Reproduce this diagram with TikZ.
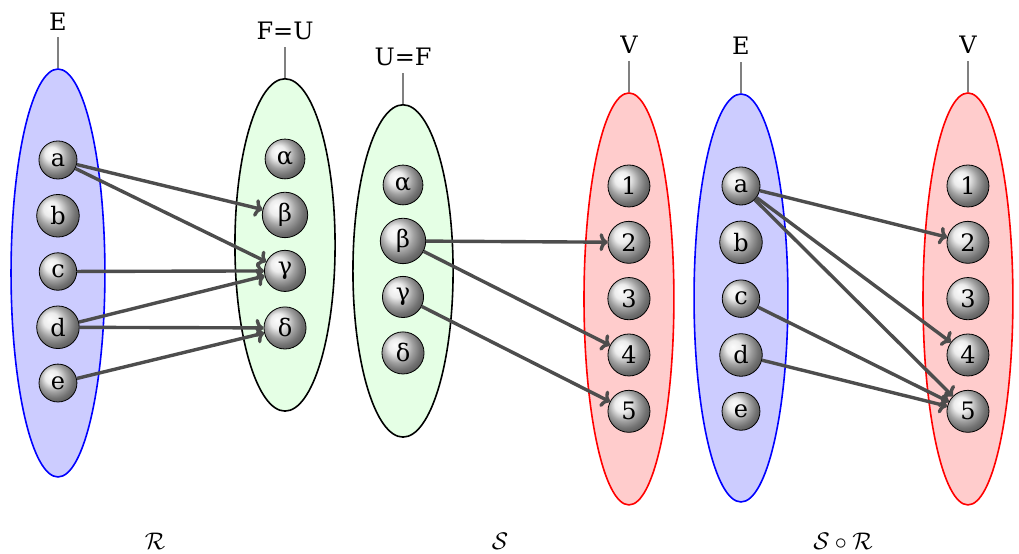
\documentclass[tikz,border=0pt]{standalone}
\usepackage{fontspec}
\setmainfont{DejaVu Serif}
\usepackage{tikz}
\usetikzlibrary{shapes.geometric, arrows.meta, positioning}
\definecolor{cArrow}{RGB}{77,77,77}
\tikzset{
	elem/.style     ={circle, draw=black, ball color=gray!20, inner sep=3.3pt, font=\large},
	setbox/.style   ={ellipse, thick, inner sep=0pt, pin distance=0.63cm},
	setblue/.style  ={setbox, draw=blue, fill=blue!20, minimum width=1.65cm, minimum height=7.17cm},
	setgreen/.style ={setbox, draw=black, fill=green!10, minimum width=1.76cm, minimum height=5.84cm},
	setred/.style   ={setbox, draw=red, fill=red!20, minimum width=1.58cm, minimum height=7.24cm},
	maparrow/.style ={-{To[length=4pt, width=9pt]}, line width=1.7pt, cArrow},
	relname/.style  ={font=\large},
	every pin/.style={font=\large},
	every pin edge/.style={draw=gray, line width=1pt},
}

\begin{document}
\begin{tikzpicture}
	\useasboundingbox (0,0) rectangle (17.909,9.736);
	% sets
	\node[setblue, pin=above:E] (setE) at (1.019,4.938) {};
	\node[setgreen, pin={above:{F=U}}] (setF) at (5.009,5.431) {};
	\node[setgreen, pin={above:{U=F}}] (setU) at (7.083,4.974) {};
	\node[setred, pin=above:V] (setV) at (11.054,4.482) {};
	\node[setblue, pin=above:E] (setEE) at (13.023,4.499) {};
	\node[setred, pin=above:V] (setVV) at (17.012,4.482) {};
	% elements
	\foreach \n/\y in {a/6.924, b/5.944, c/4.964, d/3.984, e/3.004}
		\node[elem] (E-\n) at (1.019,\y) {\n};
	\foreach \n/\t/\y in {al/α/6.942, be/β/5.958, ga/γ/4.975, de/δ/3.972}
		\node[elem] (F-\n) at (5.009,\y) {\t};
	\foreach \n/\t/\y in {al/α/6.485, be/β/5.501, ga/γ/4.517, de/δ/3.533}
		\node[elem] (U-\n) at (7.083,\y) {\t};
	\foreach \n/\y in {1/6.467, 2/5.477, 3/4.487, 4/3.497, 5/2.507}
		\node[elem] (V-\n) at (11.054,\y) {\n};
	\foreach \n/\y in {a/6.467, b/5.477, c/4.487, d/3.497, e/2.507}
		\node[elem] (EE-\n) at (13.023,\y) {\n};
	\foreach \n/\y in {1/6.467, 2/5.477, 3/4.487, 4/3.497, 5/2.507}
		\node[elem] (VV-\n) at (17.012,\y) {\n};
	% arrows
	\foreach \s/\t in {a/be, a/ga, c/ga, d/ga, d/de, e/de}
		\draw[maparrow] (E-\s) -- (F-\t);
	\foreach \s/\t in {be/2, be/4, ga/5}
		\draw[maparrow] (U-\s) -- (V-\t);
	\foreach \s/\t in {a/2, a/4, a/5, c/5, d/5}
		\draw[maparrow] (EE-\s) -- (VV-\t);
	% names of the relations
	\node[relname] (nameR) at (2.724,0.228) {$\mathcal{R}$};
	\node[relname] (nameS) at (8.787,0.228) {$\mathcal{S}$};
	\node[relname] (nameSR) at (14.815,0.228) {$\mathcal{S}\circ\mathcal{R}$};
\end{tikzpicture}
\end{document}
